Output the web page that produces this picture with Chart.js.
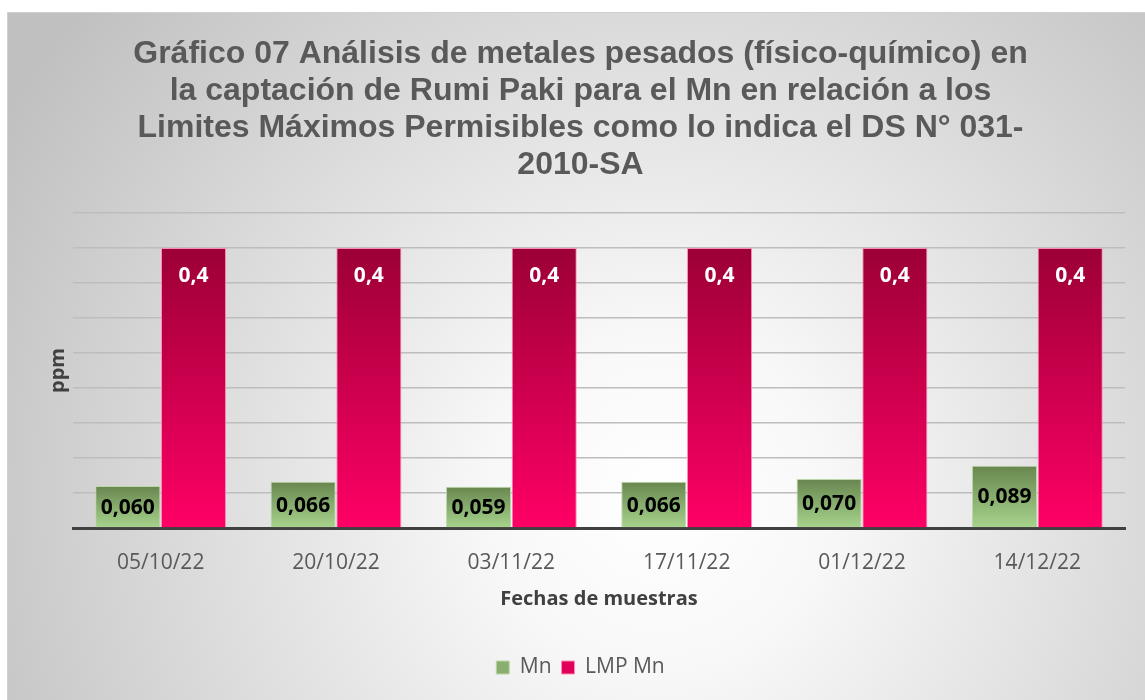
<!DOCTYPE html>
<html>
<head>
<meta charset="utf-8">
<script src="https://cdn.jsdelivr.net/npm/chart.js@4.4.1/dist/chart.umd.min.js"></script>
<style>
  html, body { margin: 0; padding: 0; background: #ffffff; }
  #wrap { width: 1145px; height: 700px; position: relative; }
</style>
</head>
<body>
<div id="wrap"><canvas id="c" width="1145" height="700"></canvas></div>
<script>
const categories = ['05/10/22', '20/10/22', '03/11/22', '17/11/22', '01/12/22', '14/12/22'];
const mnValues = [0.060, 0.066, 0.059, 0.066, 0.070, 0.089];
const lmpValues = [0.4, 0.4, 0.4, 0.4, 0.4, 0.4];
const seriesNames = ['Mn', 'LMP Mn'];
const titleLines = [
  'Gráfico 07 Análisis de metales pesados (físico-químico) en',
  'la captación de Rumi Paki para el Mn en relación a los',
  'Limites Máximos Permisibles como lo indica el DS N° 031-',
  '2010-SA'
];
const yAxisTitle = 'ppm';
const xAxisTitle = 'Fechas de muestras';

function barGradient(ctx, top, bottom) {
  const chart = ctx.chart;
  const area = chart.chartArea;
  if (!area) return bottom;
  const y = chart.scales.y;
  const v = ctx.parsed ? ctx.parsed.y : (ctx.raw || 0);
  const yTop = y.getPixelForValue(v);
  const yBot = y.getPixelForValue(0);
  const g = chart.ctx.createLinearGradient(0, yTop, 0, yBot);
  g.addColorStop(0, top);
  g.addColorStop(1, bottom);
  return g;
}

const bgPlugin = {
  id: 'bgPlugin',
  beforeDraw(chart) {
    const c = chart.ctx;
    c.save();
    c.fillStyle = '#ffffff';
    c.fillRect(0, 0, chart.width, chart.height);
    const g = c.createRadialGradient(660, 500, 0, 660, 500, 760);
    g.addColorStop(0, '#ffffff');
    g.addColorStop(0.22, '#f8f8f8');
    g.addColorStop(1, '#c0c0c0');
    c.fillStyle = g;
    c.fillRect(7, 12, chart.width - 7, chart.height - 12);
    c.strokeStyle = '#d0d0d0';
    c.lineWidth = 1;
    c.strokeRect(7.5, 12.5, chart.width, chart.height);
    c.restore();
  }
};

const labelPlugin = {
  id: 'labelPlugin',
  afterDatasetsDraw(chart) {
    const c = chart.ctx;
    c.save();
    c.textAlign = 'center';
    c.textBaseline = 'middle';
    c.font = 'bold 21px "Open Sans"';
    chart.data.datasets.forEach((ds, di) => {
      const meta = chart.getDatasetMeta(di);
      meta.data.forEach((bar, i) => {
        const v = ds.data[i];
        if (di === 0) {
          const txt = v.toFixed(3).replace('.', ',');
          c.fillStyle = '#000000';
          c.fillText(txt, bar.x, (bar.y + bar.base) / 2 + 1);
        } else {
          const txt = String(v).replace('.', ',');
          c.fillStyle = '#ffffff';
          c.fillText(txt, bar.x, bar.y + 28);
        }
      });
    });
    c.restore();
  }
};

new Chart(document.getElementById('c'), {
  type: 'bar',
  data: {
    labels: categories,
    datasets: [
      {
        label: seriesNames[0],
        data: mnValues,
        backgroundColor: (ctx) => barGradient(ctx, '#67864f', '#a8d48d'),
        borderColor: '#bcd8a8',
        borderWidth: 1,
        categoryPercentage: 0.75,
        barPercentage: 0.99
      },
      {
        label: seriesNames[1],
        data: lmpValues,
        backgroundColor: (ctx) => barGradient(ctx, '#9c0036', '#ff0066'),
        borderColor: '#ff8db8',
        borderWidth: 1,
        categoryPercentage: 0.75,
        barPercentage: 0.99
      }
    ]
  },
  options: {
    responsive: false,
    animation: false,
    devicePixelRatio: 1,
    layout: { padding: { left: 36, right: 20, top: 0, bottom: 12 } },
    plugins: {
      title: {
        display: true,
        text: titleLines,
        color: '#595959',
        font: { family: '"Liberation Sans", Arial, sans-serif', size: 32, weight: 'bold', lineHeight: 37 / 32 },
        padding: { top: 36, bottom: 29 }
      },
      legend: {
        display: true,
        position: 'bottom',
        labels: {
          color: '#595959',
          font: { family: '"Open Sans"', size: 21 },
          boxWidth: 13,
          boxHeight: 13,
          padding: 10,
          generateLabels(chart) {
            return [
              { text: seriesNames[0], fillStyle: '#8aae6e', strokeStyle: '#bcd8a8', lineWidth: 1, datasetIndex: 0, fontColor: '#595959' },
              { text: seriesNames[1], fillStyle: '#e0005a', strokeStyle: '#ff8db8', lineWidth: 1, datasetIndex: 1, fontColor: '#595959' }
            ];
          }
        }
      },
      tooltip: { enabled: false }
    },
    scales: {
      x: {
        grid: { display: false, drawTicks: false },
        border: { display: true, color: '#404040', width: 3 },
        ticks: { color: '#595959', font: { family: '"Open Sans"', size: 21 }, padding: 22 },
        title: {
          display: true,
          text: xAxisTitle,
          color: '#404040',
          font: { family: '"Open Sans"', size: 20, weight: 'bold' },
          padding: { top: 10, bottom: 36 }
        },
        afterFit(scale) { scale.height = 119; }
      },
      y: {
        min: 0,
        max: 0.45,
        ticks: { display: false, stepSize: 0.05 },
        grid: { color: '#bdbdbd', lineWidth: 1.5, drawTicks: false },
        border: { display: false },
        title: {
          display: true,
          text: yAxisTitle,
          color: '#404040',
          font: { family: '"Open Sans"', size: 20, weight: 'bold' },
          padding: { top: 10, bottom: 3 }
        }
      }
    }
  },
  plugins: [bgPlugin, labelPlugin]
});
</script>
</body>
</html>
